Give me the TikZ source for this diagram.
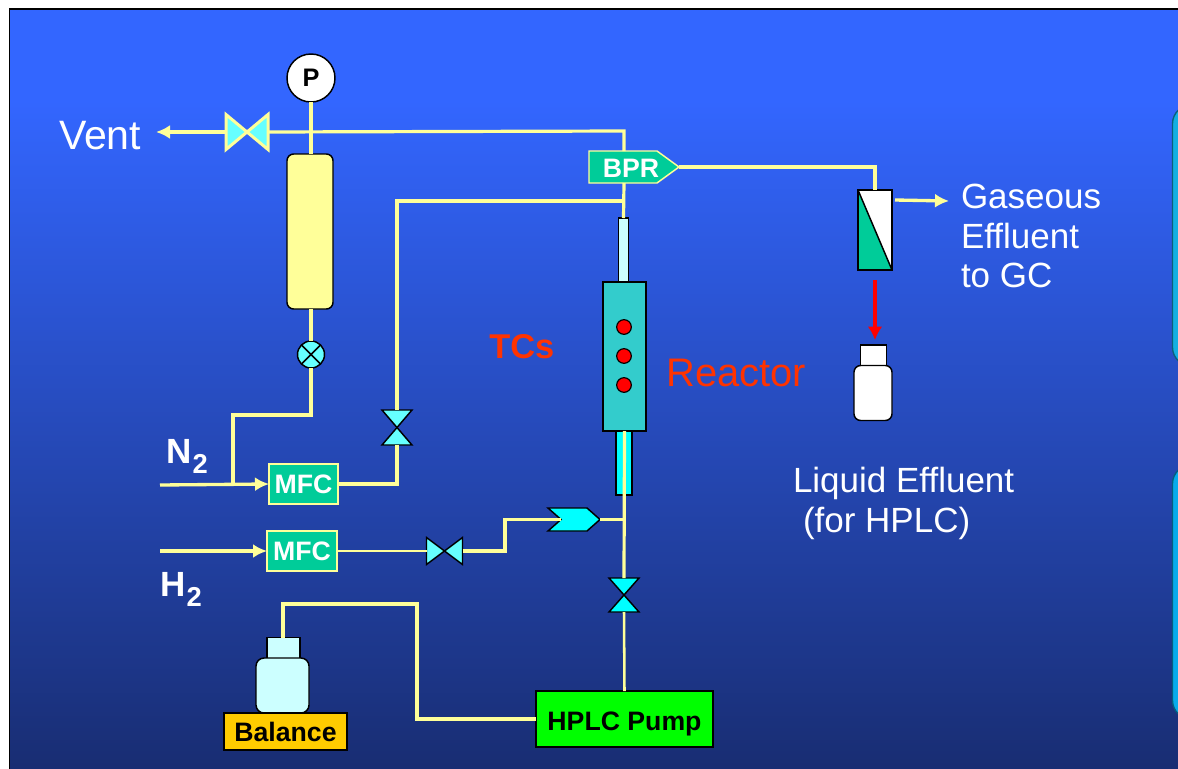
\documentclass[tikz,border=0pt]{standalone}
\usepackage{fontspec}
\setmainfont{Liberation Sans}
\usetikzlibrary{arrows.meta}
\definecolor{bgtop}{HTML}{3366FF}
\definecolor{bgbot}{HTML}{182C70}
\definecolor{pipe}{HTML}{FFFF99}
\definecolor{vcyan}{HTML}{66FFFF}
\definecolor{lcyan}{HTML}{CCFFFF}
\definecolor{purecyan}{HTML}{00FFFF}
\definecolor{mgreen}{HTML}{00CC99}
\definecolor{teal2}{HTML}{33CCCC}
\definecolor{redtxt}{HTML}{FF3300}
\definecolor{purered}{HTML}{FF0000}
\definecolor{panelA}{HTML}{14AFE1}
\definecolor{panelB}{HTML}{08ABEB}
\definecolor{balorange}{HTML}{FFCC00}
\definecolor{pumpgreen}{HTML}{00FF00}
\pgfdeclareverticalshading{bgshade}{100bp}{color(0bp)=(bgbot); color(25bp)=(bgbot); color(69bp)=(bgtop); color(75bp)=(bgtop); color(100bp)=(bgtop)}
\newcommand{\szA}{\fontsize{26.25pt}{29.5pt}\selectfont}
\newcommand{\szB}{\fontsize{20pt}{23pt}\selectfont}
\newcommand{\szC}{\fontsize{29.9pt}{33pt}\selectfont}
\newcommand{\subtwo}{\hspace{1pt}\raisebox{-7.5pt}{\fontsize{20.5pt}{21pt}\selectfont 2}}
\tikzset{
  x=0.75pt,y=-0.75pt,
  sized/.style 2 args={rectangle,inner sep=0pt,outer sep=0pt,minimum width={#1*0.75pt},minimum height={#2*0.75pt}},
  pipeline/.style={draw=pipe,line width=2.4pt,line join=miter},
  thinpipe/.style={draw=pipe,line width=1.9pt,line join=miter},
  blk/.style={draw=black,line width=1.1pt},
  mfc/.style={fill=mgreen,draw=pipe,line width=1.1pt,text=white,font=\bfseries\szB},
  valvefill/.style={fill=vcyan,draw=black,line width=1.1pt,line join=miter},
  ventfill/.style={fill=vcyan,draw=pipe,line width=2.25pt,line join=miter},
  whitelabel/.style={text=white,font=\szA,inner sep=0pt,outer sep=0pt},
  blacklabel/.style={text=black,font=\bfseries\szB},
  yarrow/.style={-{Latex[length=10.5pt,width=10.5pt]},draw=pipe,fill=pipe,line width=2.5pt},
  tcdot/.style={circle,fill=purered,draw=black,line width=0.9pt,minimum size=11pt,inner sep=0pt,outer sep=0pt},
}
\begin{document}
\begin{tikzpicture}
\useasboundingbox (0,0) rectangle (1178,768);
\begin{scope}
\clip (0,0) rectangle (1178,768);
\fill[white] (0,0) rectangle (1178,768);
\path[shading=bgshade,shading angle=0] (9,8) rectangle (1190,780);
\draw[black,line width=1.3pt] (9.5,780) -- (9.5,9) -- (1190,9);
\draw[draw=panelA!55!black,fill=panelA,line width=1pt,rounded corners=14pt] (1172.5,105) rectangle (1230,366);
\draw[draw=panelB!55!black,fill=panelB,line width=1pt,rounded corners=14pt] (1172.5,465) rectangle (1230,719);
\end{scope}

% equipment
\node[sized={46}{155},fill=pipe,blk,rounded corners=5pt] (vessel) at (310,231.5) {};
\node[circle,fill=white,blk,minimum size={48*0.75pt},inner sep=0pt,outer sep=0pt,text=black,font=\bfseries\fontsize{19pt}{20pt}\selectfont] (pg) at (311,78) {P};
\node[circle,fill=vcyan,blk,minimum size={27*0.75pt},inner sep=0pt,outer sep=0pt] (ball) at (311,354.5) {};
\draw[blk] (ball.45) -- (ball.225) (ball.135) -- (ball.315);

\node[sized={42}{35}] (ventv) at (247,132) {};
\draw[ventfill] (ventv.north west) -- (ventv.center) -- (ventv.south west) -- cycle;
\draw[ventfill] (ventv.north east) -- (ventv.center) -- (ventv.south east) -- cycle;

\node[sized={30}{35}] (n2v) at (397,427.5) {};
\draw[valvefill] (n2v.north west) -- (n2v.north east) -- (n2v.center) -- cycle;
\draw[valvefill] (n2v.south west) -- (n2v.south east) -- (n2v.center) -- cycle;

\node[sized={36}{27}] (h2v) at (444.5,551) {};
\draw[valvefill] (h2v.north west) -- (h2v.center) -- (h2v.south west) -- cycle;
\draw[valvefill] (h2v.north east) -- (h2v.center) -- (h2v.south east) -- cycle;

\node[sized={30}{34}] (pumpv) at (624,595) {};
\draw[fill=purecyan,draw=black,line width=1.1pt,line join=miter] (pumpv.north west) -- (pumpv.north east) -- (pumpv.center) -- cycle;
\draw[fill=purecyan,draw=black,line width=1.1pt,line join=miter] (pumpv.south west) -- (pumpv.south east) -- (pumpv.center) -- cycle;

\node[sized={69}{40},mfc] (mfcN) at (303.5,484) {MFC};
\node[sized={70}{40},mfc] (mfcH) at (302,551) {MFC};

\node[sized={90}{32}] (bprbox) at (634,167) {};
\draw[fill=mgreen,draw=pipe,line width=1.1pt,line join=miter] (bprbox.north west) -- (657,151) -- (bprbox.east) -- (657,183) -- (bprbox.south west) -- cycle;
\node[text=white,font=\bfseries\szB,inner sep=0pt] (bprtext) at (631,168) {BPR};

\node[sized={10}{64},fill=lcyan,blk] (uppertube) at (623.5,250) {};
\node[sized={16}{64},fill=purecyan,blk] (lowertube) at (624,463) {};
\node[sized={43}{149},fill=teal2,blk] (reactor) at (624.5,356.5) {};
\node[tcdot] (tc1) at (624,327) {};
\node[tcdot] (tc2) at (624,356) {};
\node[tcdot] (tc3) at (624,385) {};

\node[sized={52}{23}] (checkbox) at (574,519.5) {};
\draw[fill=purecyan,draw=black,line width=1.1pt,line join=miter] (checkbox.north west) -- (587,508) -- (checkbox.east) -- (587,531) -- (checkbox.south west) -- (561,519.5) -- cycle;

\node[sized={34}{80},fill=white] (sep) at (875,230) {};
\fill[mgreen] (sep.north west) -- (sep.south east) -- (sep.south west) -- cycle;
\draw[blk] (sep.north west) rectangle (sep.south east);
\draw[blk] (sep.north west) -- (sep.south east);

\node[sized={26}{22},fill=white,blk] (whiteneck) at (873.5,356) {};
\node[sized={38}{55},fill=white,blk,rounded corners=5pt] (whitebottle) at (873,393) {};

\node[sized={33}{21},fill=lcyan,blk] (feedneck) at (283.5,648) {};
\node[sized={53}{55},fill=lcyan,blk,rounded corners=6pt] (feedbottle) at (282.5,685.5) {};
\node[sized={123}{37},fill=balorange,blk,blacklabel] (balance) at (285.5,731.5) {Balance};
\node[sized={177}{56},fill=pumpgreen,blk,blacklabel] (pump) at (624.5,719) {\raisebox{-8.7pt}[0pt][0pt]{HPLC Pump}};

% junction and free-end coordinates
\coordinate (ventend) at (156,132);
\coordinate (ventcorner) at (624,131);
\coordinate (n2start) at (160,485);
\coordinate (n2tee) at (233,485);
\coordinate (n2up) at (233,415);
\coordinate (n2over) at (311,415);
\coordinate (h2start) at (160,551);
\coordinate (mfcNcorner) at (397,484);
\coordinate (n2top) at (397,201);
\coordinate (n2tee2) at (624,201);
\coordinate (bprbottom) at (624,183);
\coordinate (bprtop) at (624,151);
\coordinate (sepcorner) at (875,167);
\coordinate (gasstart) at (895,200);
\coordinate (gasend) at (949,201);
\coordinate (redstart) at (875,280);
\coordinate (redend) at (875,340);
\coordinate (h2a) at (505,551);
\coordinate (h2b) at (505,519.5);
\coordinate (checkin) at (561,519.5);
\coordinate (checktee) at (624,519.5);
\coordinate (pumpa) at (417,719);
\coordinate (pumpb) at (417,604);
\coordinate (pumpc) at (283,604);

% connectors
\draw[pipeline] (pg.south) -- (vessel.north -| pg.south);
\draw[pipeline] (vessel.south -| ball.north) -- (ball.north);
\draw[pipeline] (ball.south) -- (n2over) -- (n2up) -- (n2tee);
\draw[yarrow] (ventv.west) -- (ventend);
\draw[pipeline] (ventv.east) -- (ventcorner) -- (bprtop);
\draw[yarrow] (n2start) -- (mfcN.west);
\draw[yarrow] (h2start) -- (mfcH.west);
\draw[pipeline] (mfcN.east) -- (mfcNcorner) -- (n2v.south);
\draw[pipeline] (n2v.north) -- (n2top) -- (n2tee2);
\draw[pipeline] (bprbottom) -- (uppertube.north);
\draw[pipeline] (bprbox.east) -- (sepcorner) -- (sep.north);
\draw[yarrow] (gasstart) -- (gasend);
\draw[-{Latex[length=10pt,width=11pt]},draw=purered,line width=3pt] (redstart) -- (redend);
\draw[thinpipe] (mfcH.east) -- (h2v.west);
\draw[pipeline] (h2v.east) -- (h2a) -- (h2b) -- (checkin);
\draw[thinpipe] (checkbox.east) -- (checktee);
\draw[pipeline] (reactor.south) -- (pumpv.north);
\draw[thinpipe] (pumpv.south) -- (pump.north);
\draw[pipeline] (pump.west) -- (pumpa) -- (pumpb) -- (pumpc) -- (feedneck.north -| pumpc);

% labels
\node[whitelabel,anchor=base west,font=\fontsize{30.8pt}{32pt}\selectfont] (vent) at (59,149) {Vent};
\node[whitelabel,anchor=west,align=left] (gaslabel) at (961,236) {Gaseous\\Effluent\\to GC};
\node[whitelabel,anchor=west,align=left] (liqlabel) at (793,503.5) {Liquid Effluent\\\hspace{7.5pt}(for HPLC)};
\node[text=redtxt,font=\szC,inner sep=0pt,anchor=base west] (reactorlabel) at (666,386) {Reactor};
\node[text=redtxt,font=\bfseries\fontsize{25.8pt}{28pt}\selectfont,inner sep=0pt,anchor=base west] (tclabel) at (489,358) {TCs};
\node[whitelabel,font=\bfseries\szA,anchor=base west] (n2label) at (166,463) {N\subtwo};
\node[whitelabel,font=\bfseries\szA,anchor=base west] (h2label) at (160,596) {H\subtwo};
\end{tikzpicture}
\end{document}
